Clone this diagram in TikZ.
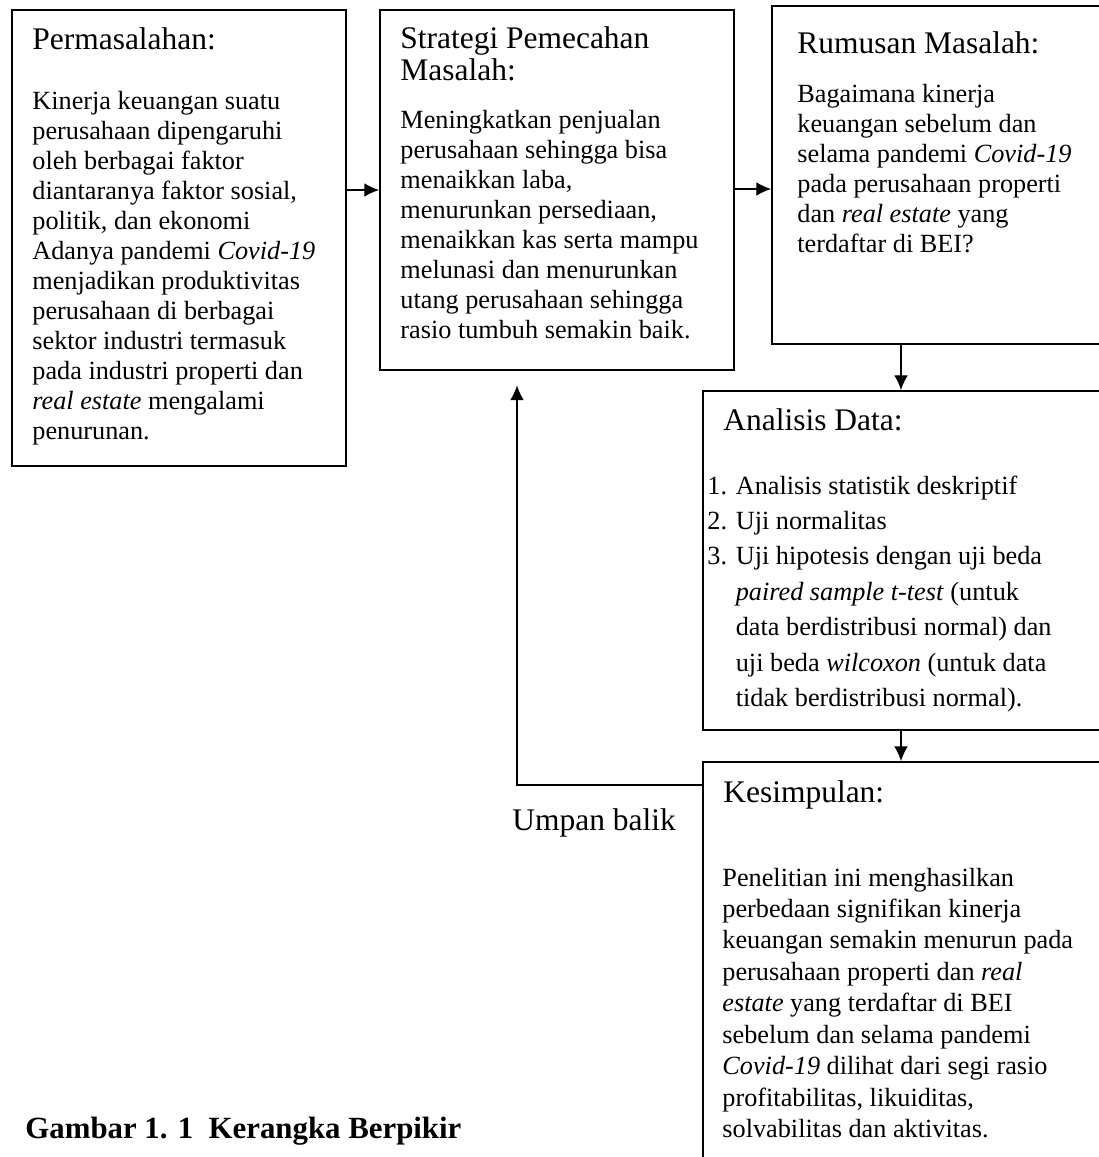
\documentclass[tikz,border=0pt]{standalone}
\usepackage{fontspec}
\setmainfont{Liberation Serif}
\usetikzlibrary{arrows,arrows.meta,positioning}

\newcommand{\baris}[1]{\begin{tabular}[t]{@{}l@{}}#1\end{tabular}}

\tikzset{
  kotak/.style={draw, line width=0.9pt, inner sep=0pt, anchor=north west},
  judul/.style={anchor=base west, inner sep=0pt, font=\fontsize{15.1}{15.4}\selectfont},
  isi/.style={anchor=base west, inner sep=0pt, font=\fontsize{12.6}{14.4}\selectfont},
  panah/.style={-{Latex[length=7pt,width=6.5pt]}, line width=0.5pt},
}

\begin{document}
\begin{tikzpicture}[x=0.48pt, y=-0.48pt]
\clip (0,0) rectangle (1099,1157);

% kotak-kotak
\node[kotak, minimum width=160.3pt, minimum height=218.9pt] at (11,9) (masalah) {};
\node[kotak, minimum width=169.9pt, minimum height=172.8pt] at (379,9) (strategi) {};
\node[kotak, minimum width=163.2pt, minimum height=162.2pt] at (771,5) (rumusan) {};
\node[kotak, minimum width=196.8pt, minimum height=162.7pt] at (702,390) (analisis) {};
\node[kotak, minimum width=196.8pt, minimum height=201.6pt] at (702,761) (kesimpulan) {};

% isi
\node[judul] at (32,50) (masalahJ) {Permasalahan:};
\node[isi] at (32,109) (masalahT) {\baris{Kinerja keuangan suatu\\perusahaan dipengaruhi\\oleh berbagai faktor\\diantaranya faktor sosial,\\politik, dan ekonomi\\Adanya pandemi \textit{Covid-19}\\menjadikan produktivitas\\perusahaan di berbagai\\sektor industri termasuk\\pada industri properti dan\\\textit{real estate} mengalami\\penurunan.}};

\node[judul] at (400,48) (strategiJ) {\baris{Strategi Pemecahan\\Masalah:}};
\node[isi] at (400,128) (strategiT) {\baris{Meningkatkan penjualan\\perusahaan sehingga bisa\\menaikkan laba,\\menurunkan persediaan,\\menaikkan kas serta mampu\\melunasi dan menurunkan\\utang perusahaan sehingga\\rasio tumbuh semakin baik.}};

\node[judul] at (797,53) (rumusanJ) {Rumusan Masalah:};
\node[isi] at (797,102) (rumusanT) {\baris{Bagaimana kinerja\\keuangan sebelum dan\\selama pandemi \textit{Covid-19}\\pada perusahaan properti\\dan \textit{real estate} yang\\terdaftar di BEI?}};

\node[judul] at (723,430) (analisisJ) {Analisis Data:};
\node[isi, font=\fontsize{12.6}{17}\selectfont] at (707,494) (analisisT) {\baris{1. Analisis statistik deskriptif\\2. Uji normalitas\\3. Uji hipotesis dengan uji beda\\\hphantom{3. }\textit{paired sample t-test} (untuk\\\hphantom{3. }data berdistribusi normal) dan\\\hphantom{3. }uji beda \textit{wilcoxon} (untuk data\\\hphantom{3. }tidak berdistribusi normal).}};

\node[judul] at (723,802) (kesimpulanJ) {Kesimpulan:};
\node[isi, font=\fontsize{12.6}{15.1}\selectfont] at (722,886) (kesimpulanT) {\baris{Penelitian ini menghasilkan\\perbedaan signifikan kinerja\\keuangan semakin menurun pada\\perusahaan properti dan \textit{real}\\\textit{estate} yang terdaftar di BEI\\sebelum dan selama pandemi\\\textit{Covid-19} dilihat dari segi rasio\\profitabilitas, likuiditas,\\solvabilitas dan aktivitas.}};

\node[judul] at (512,830) (umpan) {Umpan balik};
\node[anchor=base west, inner sep=0pt, font=\bfseries\fontsize{14.8}{16}\selectfont] at (25,1138) (judulGambar) {Gambar 1. 1\ \ Kerangka Berpikir};

% panah
\draw[panah] (masalah.east |- 0,190) -- (strategi.west |- 0,190);
\draw[panah] (strategi.east |- 0,189) -- (rumusan.west |- 0,189);
\draw[panah] (901,0 |- rumusan.south) -- (901,0 |- analisis.north);
\draw[panah] (901,0 |- analisis.south) -- (901,0 |- kesimpulan.north);
\draw[panah, shorten >=7pt] (kesimpulan.west |- 0,785) -| (517,0 |- strategi.south);

\end{tikzpicture}
\end{document}
